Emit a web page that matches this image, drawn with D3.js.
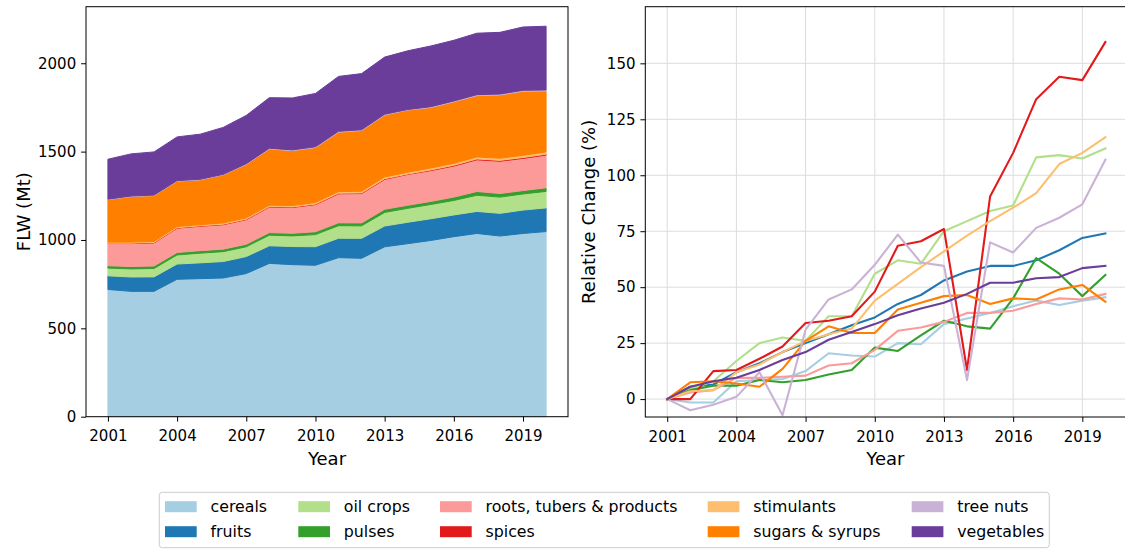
<!DOCTYPE html>
<html>
<head>
<meta charset="utf-8">
<script src="https://cdn.jsdelivr.net/npm/d3@7"></script>
<style>
  body { margin: 0; background: #fff; }
  svg { display: block; font-family: "DejaVu Sans", sans-serif; }
</style>
</head>
<body>
<svg id="chart" width="1125" height="549"></svg>
<script>
// years and food groups
const years = [2001, 2002, 2003, 2004, 2005, 2006, 2007, 2008, 2009, 2010,
               2011, 2012, 2013, 2014, 2015, 2016, 2017, 2018, 2019, 2020];
const categories = ["cereals", "fruits", "oil crops", "pulses", "roots, tubers & products",
                    "spices", "stimulants", "sugars & syrups", "tree nuts", "vegetables"];
const colors = ["#a6cee3", "#1f78b4", "#b2df8a", "#33a02c", "#fb9a99",
                "#e31a1c", "#fdbf6f", "#ff7f00", "#cab2d6", "#6a3d9a"];

// FLW in 2001 (Mt)
const base2001 = [720, 77, 44, 13, 126, 2, 6, 240, 3, 226];

// relative change vs 2001 (%)
const cerealsRC    = [0, -1.5, -1.5, 8, 8.5, 9, 12.5, 20.5, 19.5, 19, 25, 24.5, 33.5, 36, 38.5, 41.5, 44, 42, 44, 45.5];
const fruitsRC     = [0, 5.5, 6.5, 12, 16, 21, 25, 29, 33, 36.5, 42.5, 46.5, 53, 57, 59.5, 59.5, 62, 66.5, 72, 74];
const oilCropsRC   = [0, 4.5, 8, 17, 25, 27.5, 26, 37, 37, 56, 62, 60.5, 75, 79.5, 84, 86.5, 108, 109, 107.5, 112];
const pulsesRC     = [0, 4, 6, 6, 8.5, 7.5, 8.5, 11, 13, 23, 21.5, 28.5, 35, 32.5, 31.5, 45, 63, 56, 46, 55.5];
const rootsRC      = [0, 3, 4, 9.5, 9.5, 10, 10.5, 15, 16, 22, 30.5, 32, 34.5, 38.5, 38.5, 39.5, 42.5, 45, 44.5, 47];
const spicesRC     = [0, 0, 12.5, 13, 18, 23.5, 34, 35, 37, 48, 68.5, 70.5, 76, 13, 90.5, 110, 134, 144, 142.5, 159.5];
const stimulantsRC = [0, 3.5, 4, 12, 15.5, 21, 26, 29, 31.5, 44, 51.5, 59, 66, 73, 79.5, 85.5, 92, 105, 110, 117];
const sugarsRC     = [0, 7.5, 8, 7, 5.5, 13.5, 26, 32.5, 29.5, 29.5, 40, 43, 46, 46.5, 42.5, 45, 44.5, 49, 51, 43.5];
const treeNutsRC   = [0, -5, -2.5, 1, 12, -7.2, 31, 44.5, 49, 60, 73.5, 61, 59.5, 8.5, 70, 65.5, 76.5, 81, 87, 107];
const vegetablesRC = [0, 5.5, 8, 9.5, 13, 17.5, 21, 26.5, 30, 33.5, 37.5, 40.5, 43, 47, 52, 52, 54, 54.5, 58.5, 59.5];

const relChange = [cerealsRC, fruitsRC, oilCropsRC, pulsesRC, rootsRC,
                   spicesRC, stimulantsRC, sugarsRC, treeNutsRC, vegetablesRC];
const xTicks = [2001, 2004, 2007, 2010, 2013, 2016, 2019];
const yTicksLeft = [0, 500, 1000, 1500, 2000];
const yTicksRight = [0, 25, 50, 75, 100, 125, 150];

// absolute FLW table for the stack
const table = years.map((yr, i) => {
  const row = { year: yr };
  categories.forEach((c, k) => row[c] = base2001[k] * (1 + relChange[k][i] / 100));
  return row;
});

const svg = d3.select("#chart");
const tickFont = 15, labelFont = 18;

function styleAxis(g) {
  g.select(".domain").remove();
  g.selectAll("line").attr("stroke", "#000").attr("stroke-width", 1);
  g.selectAll("text").attr("fill", "#000").attr("font-size", tickFont)
    .attr("font-family", "DejaVu Sans");
}

// ---------- left: stacked area ----------
const L = { x0: 86, x1: 568, y0: 6.7, y1: 416.7 };
const xL = d3.scaleLinear().domain([2000.05, 2020.95]).range([L.x0, L.x1]);
const series = d3.stack().keys(categories)(table);
const yL = d3.scaleLinear()
  .domain([0, d3.max(series[series.length - 1], d => d[1]) * 1.05])
  .range([L.y1, L.y0]);

const area = d3.area()
  .x(d => xL(d.data.year))
  .y0(d => yL(d[0]))
  .y1(d => yL(d[1]));

svg.append("g").selectAll("path")
  .data(series)
  .join("path")
  .attr("d", area)
  .attr("fill", (d, i) => colors[i])
  .attr("stroke", (d, i) => colors[i])
  .attr("stroke-width", 1);

svg.append("g")
  .attr("transform", `translate(0,${L.y1})`)
  .call(d3.axisBottom(xL).tickValues(xTicks).tickFormat(d3.format("d")).tickSize(4.9).tickPadding(9))
  .call(styleAxis);
svg.append("g")
  .attr("transform", `translate(${L.x0},0)`)
  .call(d3.axisLeft(yL).tickValues(yTicksLeft).tickFormat(d3.format("d")).tickSize(4.9).tickPadding(4.9))
  .call(styleAxis);

svg.append("rect")
  .attr("x", L.x0).attr("y", L.y0)
  .attr("width", L.x1 - L.x0).attr("height", L.y1 - L.y0)
  .attr("fill", "none").attr("stroke", "#000").attr("stroke-width", 1);

svg.append("text")
  .attr("x", (L.x0 + L.x1) / 2).attr("y", 465)
  .attr("text-anchor", "middle").attr("font-size", labelFont)
  .text("Year");
svg.append("text")
  .attr("transform", `translate(30,${(L.y0 + L.y1) / 2}) rotate(-90)`)
  .attr("text-anchor", "middle").attr("font-size", labelFont)
  .text("FLW (Mt)");

// ---------- right: relative change lines ----------
const R = { x0: 645.3, x1: 1127.3, y0: 6.7, y1: 417 };
const xR = d3.scaleLinear().domain([2000.05, 2020.95]).range([R.x0, R.x1]);
const yR = d3.scaleLinear().domain([-8, 175.3]).range([R.y1, R.y0]);

svg.append("defs").append("clipPath").attr("id", "clipR")
  .append("rect").attr("x", R.x0).attr("y", R.y0)
  .attr("width", R.x1 - R.x0).attr("height", R.y1 - R.y0);

// grid
const grid = svg.append("g").attr("stroke", "#dcdcdc").attr("stroke-width", 1);
grid.selectAll(".gx").data(xTicks).join("line")
  .attr("x1", d => xR(d)).attr("x2", d => xR(d))
  .attr("y1", R.y0).attr("y2", R.y1);
grid.selectAll(".gy").data(yTicksRight).join("line")
  .attr("x1", R.x0).attr("x2", R.x1)
  .attr("y1", d => yR(d)).attr("y2", d => yR(d));

const line = d3.line()
  .x((d, i) => xR(years[i]))
  .y(d => yR(d));

svg.append("g").attr("clip-path", "url(#clipR)")
  .selectAll("path")
  .data(relChange)
  .join("path")
  .attr("d", line)
  .attr("fill", "none")
  .attr("stroke", (d, i) => colors[i])
  .attr("stroke-width", 2.1)
  .attr("stroke-linejoin", "round")
  .attr("stroke-linecap", "square");

svg.append("g")
  .attr("transform", `translate(0,${R.y1})`)
  .call(d3.axisBottom(xR).tickValues(xTicks).tickFormat(d3.format("d")).tickSize(4.9).tickPadding(9))
  .call(styleAxis);
svg.append("g")
  .attr("transform", `translate(${R.x0},0)`)
  .call(d3.axisLeft(yR).tickValues(yTicksRight).tickSize(4.9).tickPadding(4.9))
  .call(styleAxis);

svg.append("rect")
  .attr("x", R.x0).attr("y", R.y0)
  .attr("width", R.x1 - R.x0).attr("height", R.y1 - R.y0)
  .attr("fill", "none").attr("stroke", "#000").attr("stroke-width", 1);

svg.append("text")
  .attr("x", (R.x0 + 1125.5) / 2).attr("y", 465)
  .attr("text-anchor", "middle").attr("font-size", labelFont)
  .text("Year");
svg.append("text")
  .attr("transform", `translate(595,${(R.y0 + R.y1) / 2}) rotate(-90)`)
  .attr("text-anchor", "middle").attr("font-size", labelFont)
  .text("Relative Change (%)");

// ---------- legend ----------
const legendCols = [165, 298.3, 440, 707.7, 911.7];
const legendRows = [506.7, 531.7];
svg.append("rect")
  .attr("x", 159.3).attr("y", 492.3)
  .attr("width", 890).attr("height", 55.4)
  .attr("rx", 3).attr("fill", "#fff")
  .attr("stroke", "#cccccc").attr("stroke-width", 1);

const item = svg.append("g").selectAll("g")
  .data(categories)
  .join("g")
  .attr("transform", (d, k) => `translate(${legendCols[Math.floor(k / 2)]},${legendRows[k % 2]})`);
item.append("rect")
  .attr("x", 0).attr("y", -5.5)
  .attr("width", 31.7).attr("height", 11)
  .attr("fill", (d, k) => colors[k]);
item.append("text")
  .attr("x", 45.5).attr("dy", "0.35em")
  .attr("font-size", 15.8)
  .text(d => d);
</script>
</body>
</html>
